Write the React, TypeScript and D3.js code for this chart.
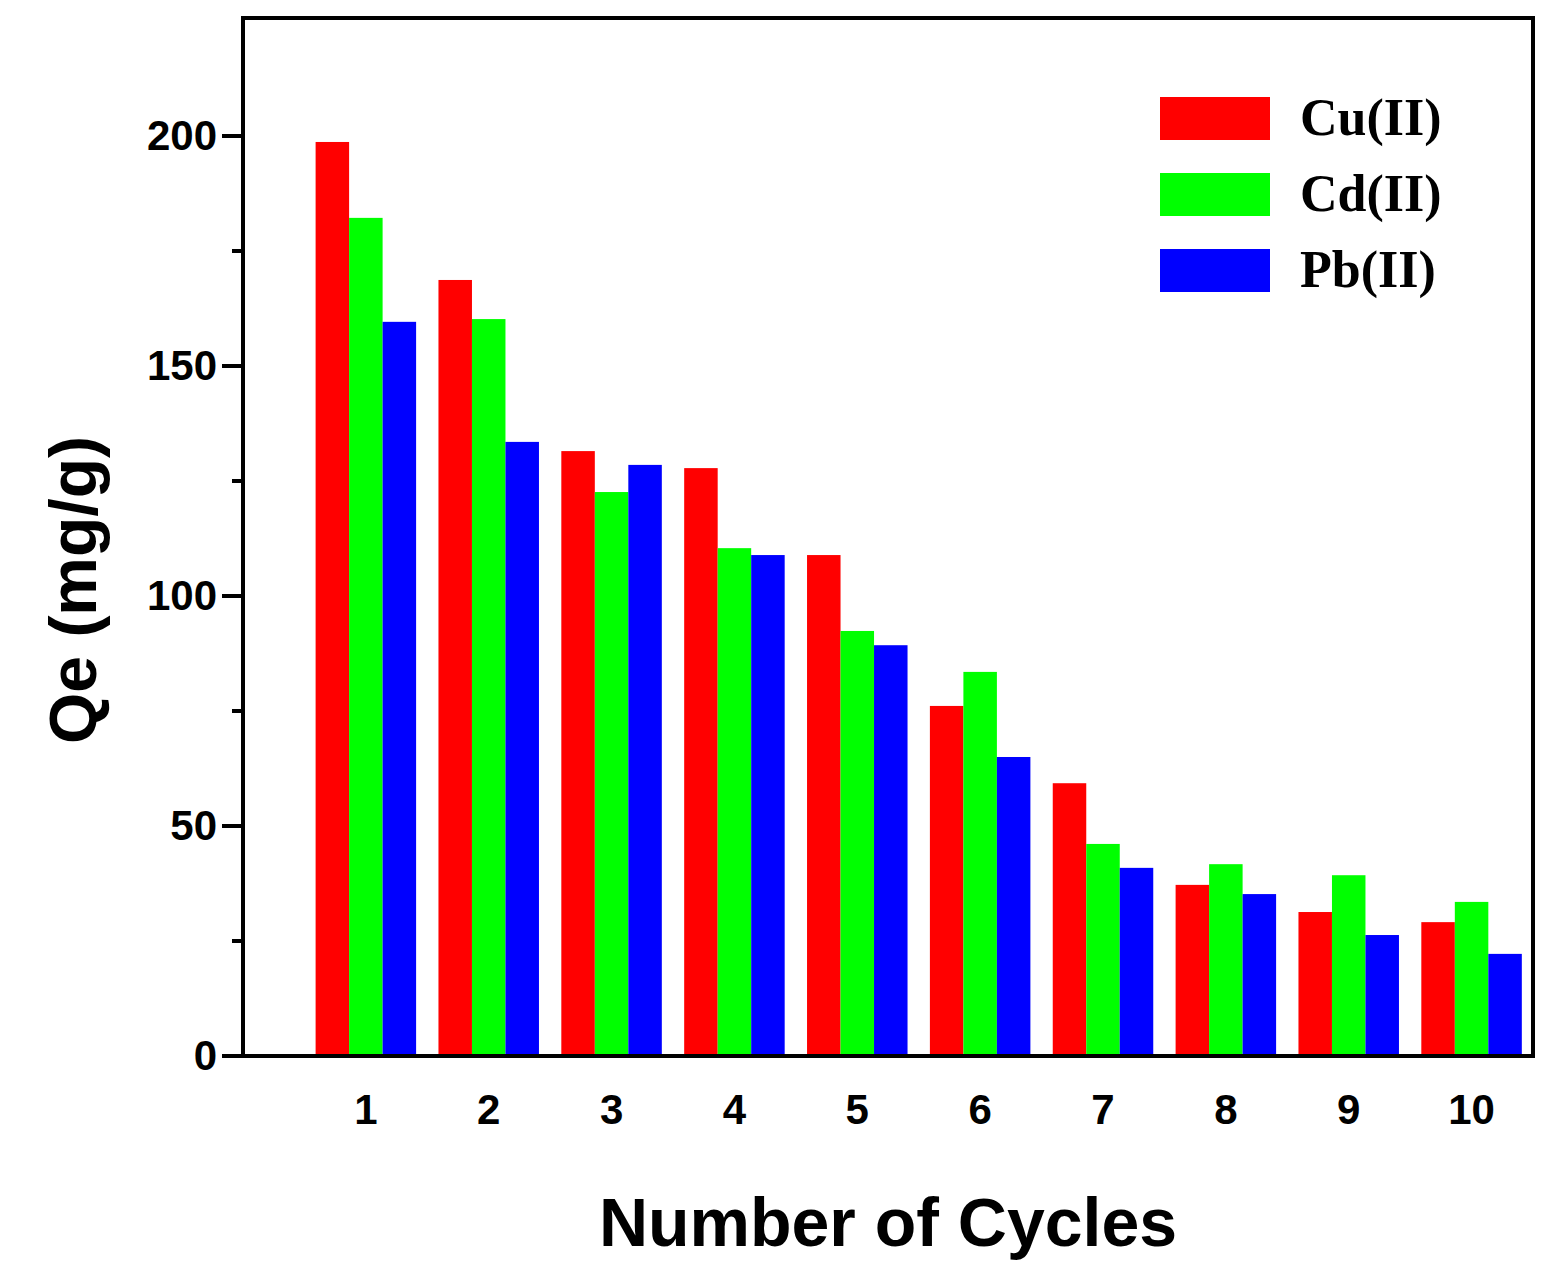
import React from "react";
import * as d3 from "d3";

const cycles = [1, 2, 3, 4, 5, 6, 7, 8, 9, 10];
const cu = [198.7, 168.7, 131.5, 127.8, 108.9, 76.1, 59.3, 37.2, 31.3, 29.1];
const cd = [182.2, 160.2, 122.6, 110.4, 92.4, 83.5, 46.1, 41.7, 39.3, 33.5];
const pb = [159.6, 133.5, 128.5, 108.9, 89.3, 65.0, 40.9, 35.2, 26.3, 22.2];
const seriesNames = ["Cu(II)", "Cd(II)", "Pb(II)"];
const colors = ["#ff0000", "#00ff00", "#0000ff"];
const majorTicks = [0, 50, 100, 150, 200];
const minorTicks = [25, 75, 125, 175];

const L = 243, R = 1533, T = 18, B = 1056;

export default function App() {
  const x = d3.scaleLinear().domain([0, 10.5]).range([L, R]);
  const y = d3.scaleLinear().domain([0, 225.65]).range([B, T]);
  const series = [cu, cd, pb];
  const bw = 33.5;
  return (
    <svg width={1552} height={1280} style={{ display: "block", margin: -8 }}>
      <rect width={1552} height={1280} fill="#fff" />
      {series.map((vals, s) =>
        vals.map((v, i) => (
          <rect key={`${s}-${i}`} x={x(cycles[i]) - 1.5 * bw + s * bw} y={y(v)} width={bw} height={B - y(v)} fill={colors[s]} />
        ))
      )}
      <rect x={L} y={T} width={R - L} height={B - T} fill="none" stroke="#000" strokeWidth={4} />
      <g fontFamily="Arial, Liberation Sans, sans-serif" fontWeight="bold" fill="#000">
        {majorTicks.map((t) => (
          <g key={t}>
            <line x1={L - 21} x2={L} y1={y(t)} y2={y(t)} stroke="#000" strokeWidth={4} />
            <text x={L - 26} y={y(t) + 14} fontSize={42} textAnchor="end">{t}</text>
          </g>
        ))}
        {minorTicks.map((t) => (
          <line key={t} x1={L - 11} x2={L} y1={y(t)} y2={y(t)} stroke="#000" strokeWidth={4} />
        ))}
        {cycles.map((c) => (
          <text key={c} x={x(c)} y={1124} fontSize={42} textAnchor="middle">{c}</text>
        ))}
        <text x={888} y={1246} fontSize={68} textAnchor="middle">Number of Cycles</text>
        <text transform="translate(96,590) rotate(-90)" fontSize={66} textAnchor="middle">Qe (mg/g)</text>
      </g>
      {seriesNames.map((n, s) => (
        <g key={n}>
          <rect x={1160} y={97 + s * 76} width={110} height={43} fill={colors[s]} />
          <text x={1300} y={135 + s * 76} fontSize={52} fontWeight="bold" fontFamily="Liberation Serif, Times New Roman, serif">{n}</text>
        </g>
      ))}
    </svg>
  );
}
